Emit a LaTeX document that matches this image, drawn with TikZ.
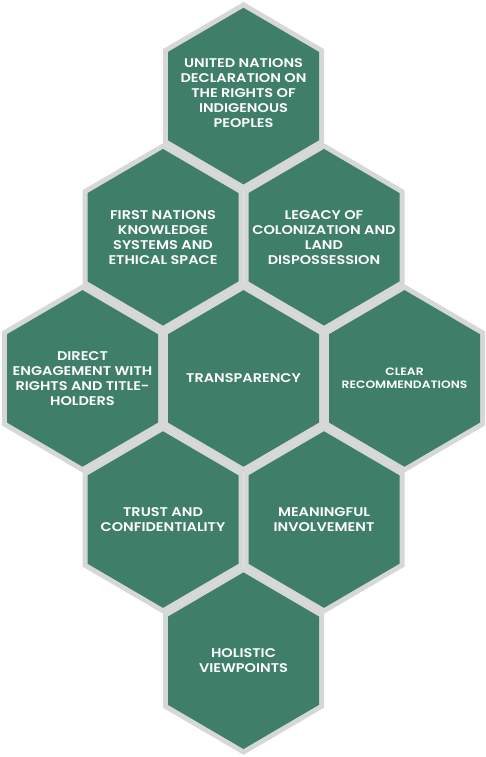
\documentclass[tikz,border=0pt]{standalone}
\usepackage{fontspec}
\newfontfamily\hexfont{Poppins SemiBold}[FakeStretch=1.15]
\definecolor{hexgreen}{HTML}{3F7F6A}
\definecolor{hexgray}{HTML}{D6D8D7}
\tikzset{
  hexlabel/.style={text=white, align=center, inner sep=0pt, font=\hexfont\fontsize{12.6}{15}\selectfont},
  hexsmall/.style={font=\hexfont\fontsize{10.7}{13}\selectfont},
}
\newcommand\hexcell[5]{%
  \begin{scope}[shift={(#2,#3)}]
    \fill[hexgray] (0,-94.1) -- (80.5,-47.05) -- (80.5,47.05) -- (0,94.1) -- (-80.5,47.05) -- (-80.5,-47.05) -- cycle;
    \fill[hexgreen] (0,-88.3) -- (75.5,-44.15) -- (75.5,44.15) -- (0,88.3) -- (-75.5,44.15) -- (-75.5,-44.15) -- cycle;
    \node[hexlabel,#4] (#1) at (0,0) {#5};
  \end{scope}}
\begin{document}
\begin{tikzpicture}[x=1pt,y=-1pt]
  \useasboundingbox (0,0) rectangle (486,757);
  \hexcell{undrip}{243.5}{96.1}{yshift=3pt}{UNITED NATIONS\\DECLARATION ON\\THE RIGHTS OF\\INDIGENOUS\\PEOPLES}
  \hexcell{firstnations}{163}{237.25}{}{FIRST NATIONS\\KNOWLEDGE\\SYSTEMS AND\\ETHICAL SPACE}
  \hexcell{legacy}{324}{237.25}{}{LEGACY OF\\COLONIZATION AND\\LAND\\DISPOSSESSION}
  \hexcell{direct}{82.5}{378.4}{}{DIRECT\\ENGAGEMENT WITH\\RIGHTS AND TITLE-\\HOLDERS}
  \hexcell{transparency}{243.5}{378.4}{}{TRANSPARENCY}
  \hexcell{clear}{404.5}{378.4}{hexsmall}{CLEAR\\RECOMMENDATIONS}
  \hexcell{trust}{163}{519.55}{}{TRUST AND\\CONFIDENTIALITY}
  \hexcell{meaningful}{324}{519.55}{}{MEANINGFUL\\INVOLVEMENT}
  \hexcell{holistic}{243.5}{660.7}{}{HOLISTIC\\VIEWPOINTS}
\end{tikzpicture}
\end{document}
